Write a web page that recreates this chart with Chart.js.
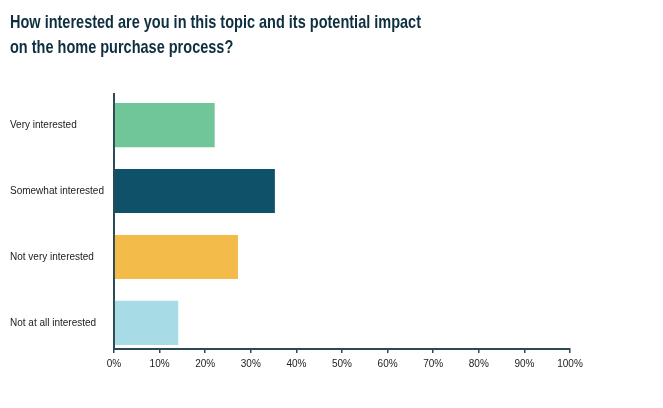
<html>
<head>
<script src="https://cdn.jsdelivr.net/npm/chart.js"></script>
<style type="text/css">
  body{
    margin:0;
    background:#fff;
  }
  #wrap{
    width:663px;
    height:408px;
    position:relative;
  }
  #chartTitle{
    position:absolute;
    left:10px;
    top:10px;
    margin:0;
    font-family:"Liberation Sans", Arial, sans-serif;
    font-weight:bold;
    font-size:17.7px;
    line-height:25px;
    color:#0e2f3f;
    white-space:nowrap;
    transform:scaleX(0.82);
    transform-origin:left top;
  }
</style>
</head>
<body>
<div id="wrap">
  <canvas id="interestChart"></canvas>
  <h2 id="chartTitle"></h2>
</div>
<script>
  const titleLines = [
    'How interested are you in this topic and its potential impact',
    'on the home purchase process?'
  ];
  const categories = ['Very interested', 'Somewhat interested', 'Not very interested', 'Not at all interested'];
  const shares = [22.3, 35.5, 27.4, 14.3];
  const barColors = ['#70c698', '#0f5169', '#f3bb4a', '#a7dbe6'];
  const xTicks = [0, 10, 20, 30, 40, 50, 60, 70, 80, 90, 100];

  const axisColor = '#2c4a56';
  const labelFont = '"Liberation Sans", Arial, sans-serif';

  document.getElementById('chartTitle').innerHTML = titleLines.join('<br>');

  // bars placed on a numeric y scale so the category rows can sit where the original has them
  const points = shares.map((v, i) => ({ x: v, y: i }));

  new Chart(document.getElementById('interestChart'), {
    type: 'bar',
    data: {
      datasets: [{
        data: points,
        backgroundColor: barColors,
        borderColor: 'rgba(255,255,255,0.5)',
        borderWidth: 1,
        categoryPercentage: 1,
        barPercentage: 0.7
      }]
    },
    options: {
      indexAxis: 'y',
      responsive: true,
      maintainAspectRatio: false,
      animation: false,
      layout: {
        padding: { left: 10, right: 93, top: 94, bottom: 33 }
      },
      plugins: {
        legend: { display: false },
        tooltip: { enabled: false },
        title: { display: false }
      },
      scales: {
        x: {
          type: 'linear',
          min: 0,
          max: 100,
          afterBuildTicks: (axis) => { axis.ticks = xTicks.map(v => ({ value: v })); },
          grid: {
            drawOnChartArea: false,
            drawTicks: true,
            tickLength: 4,
            color: axisColor,
            lineWidth: 1.5
          },
          border: { display: true, color: axisColor, width: 2 },
          ticks: {
            color: '#222',
            padding: 5,
            font: { family: labelFont, size: 10 },
            callback: (v) => v + '%'
          }
        },
        y: {
          type: 'linear',
          reverse: true,
          offset: false,
          min: -0.472,
          max: 3.396,
          afterBuildTicks: (axis) => { axis.ticks = categories.map((c, i) => ({ value: i })); },
          afterFit: (axis) => { axis.width = 104; },
          grid: { display: false, drawTicks: false, offset: false },
          border: { display: true, color: axisColor, width: 2 },
          ticks: {
            color: '#222',
            crossAlign: 'far',
            padding: 0,
            font: { family: labelFont, size: 10 },
            callback: (v) => categories[v]
          }
        }
      }
    }
  });
</script>
</body>
</html>
